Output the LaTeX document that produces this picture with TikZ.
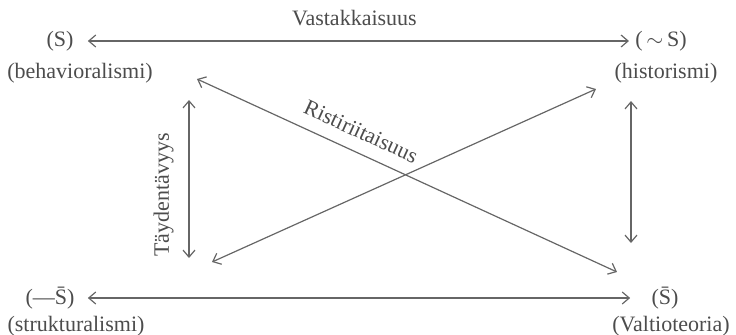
\documentclass[tikz,border=0pt]{standalone}
\usepackage{fontspec}
\setmainfont{Liberation Serif}
\usetikzlibrary{arrows.meta, positioning}

\begin{document}
\begin{tikzpicture}[
    x=0.5pt, y=-0.5pt,
    term/.style={inner sep=3pt, text=black!70, font=\fontsize{11}{13}\selectfont},
    rel/.style={{Straight Barb[length=3.5pt,width=6pt]}-{Straight Barb[length=3.5pt,width=6pt]}, line width=0.6pt, draw=black!60},
    lbl/.style={text=black!70, font=\fontsize{11}{13}\selectfont}
]
\useasboundingbox (0,0) rectangle (736,334);

% Corners
\node[term] (S) at (60,41) {(S)};
\node[term] (behav) at (80,73) {(behavioralismi)};
\node[term] (notS) at (661,41) {(\,$\sim$\,S)};
\node[term] (hist) at (666,73) {(historismi)};
\node[term] (negSbar) at (50,298) {(---\=S)};
\node[term] (struk) at (76,326) {(strukturalismi)};
\node[term] (Sbar) at (665,298) {(\=S)};
\node[term] (valt) at (671,326) {(Valtioteoria)};

% Inner ends
\coordinate (diagAtl) at (197,79);
\coordinate (diagAbr) at (617,272);
\coordinate (diagBbl) at (212,262);
\coordinate (diagBtr) at (596,89);
\coordinate (leftT) at (189,100);
\coordinate (leftB) at (189,258);
\coordinate (rightT) at (631,101);
\coordinate (rightB) at (631,243);

% Relations
\draw[rel, shorten <=4pt] (S.east) -- (notS.west) node[lbl, midway, above=4pt] {Vastakkaisuus};
\draw[rel, shorten <=3.5pt, shorten >=7.5pt] (negSbar.east) -- (Sbar.west);
\draw[rel] (diagAtl) -- (diagAbr) node[lbl, pos=0.37, sloped, above=3pt] {Ristiriitaisuus};
\draw[rel] (diagBbl) -- (diagBtr);
\draw[rel] (leftB) -- (leftT) node[lbl, pos=0.4, sloped, above=4pt] {Täydentävyys};
\draw[rel] (rightT) -- (rightB);

\end{tikzpicture}
\end{document}
